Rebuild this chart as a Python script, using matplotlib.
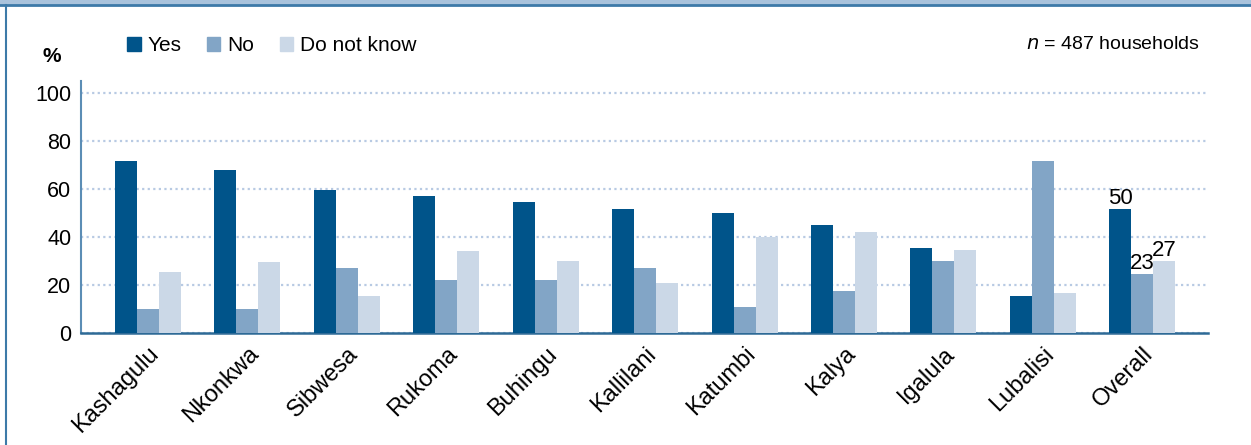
import numpy as np
import matplotlib.pyplot as plt
from matplotlib.lines import Line2D
from matplotlib.patches import Rectangle

plt.rcParams['font.family'] = ['Liberation Sans', 'DejaVu Sans']

# data
villages = ['Kashagulu', 'Nkonkwa', 'Sibwesa', 'Rukoma', 'Buhingu', 'Kallilani',
            'Katumbi', 'Kalya', 'Igalula', 'Lubalisi', 'Overall']
yes = [71.5, 68, 59.5, 57, 54.5, 51.5, 50, 45, 35.5, 15.5, 51.5]
no = [10, 10, 27, 22, 22, 27, 11, 17.5, 30, 71.5, 24.5]
dont_know = [25.5, 29.5, 15.5, 34, 30, 21, 40, 42, 34.5, 16.5, 30]
overall_labels = ['50', '23', '27']

c_yes = '#00548a'
c_no = '#82a5c6'
c_dk = '#cbd8e7'

fig = plt.figure(figsize=(12.51, 4.45), dpi=100)
ax = fig.add_axes([0.0647, 0.2517, 0.9009, 0.5663])

x = np.arange(len(villages))
w = 0.221
ax.bar(x - w, yes, w, color=c_yes, label='Yes', zorder=3)
ax.bar(x, no, w, color=c_no, label='No', zorder=3)
ax.bar(x + w, dont_know, w, color=c_dk, label='Do not know', zorder=3)

# value labels on the overall group
last = len(villages) - 1
for off, val, lab in zip([-w, 0, w], [yes[last], no[last], dont_know[last]], overall_labels):
    ax.annotate(lab, (last + off, val), xytext=(0, 0), textcoords='offset points',
                ha='center', va='bottom', fontsize=16)

ax.set_xlim(-0.674, 10.66)
ax.set_ylim(0, 105)
ax.set_yticks([0, 20, 40, 60, 80, 100])
ax.set_xticks(x)
ax.set_xticklabels(villages, rotation=45, ha='right', rotation_mode='anchor', fontsize=17)
ax.tick_params(axis='y', length=0, labelsize=15.5, pad=7)
ax.tick_params(axis='x', length=0, pad=7)

ax.yaxis.grid(True, linestyle=(0, (1, 1.5)), color='#b8cae3', linewidth=1.6, zorder=0)
for s in ['top', 'right']:
    ax.spines[s].set_visible(False)
ax.spines['left'].set_color('#5b8db5')
ax.spines['bottom'].set_color('#2e6a96')
ax.spines['left'].set_linewidth(1.5)
ax.spines['bottom'].set_linewidth(1.8)

fig.text(0.0415, 0.872, '%', fontsize=15, fontweight='bold', ha='center', va='center')

handles = [Rectangle((0, 0), 1, 1, color=c) for c in (c_yes, c_no, c_dk)]
fig.legend(handles, ['Yes', 'No', 'Do not know'], loc='center left',
           bbox_to_anchor=(0.1015, 0.898), ncol=3, frameon=False, fontsize=15,
           handlelength=0.65, handleheight=0.65, handletextpad=0.35, columnspacing=1.2,
           borderaxespad=0, borderpad=0)

fig.text(0.959, 0.901, r'$n$ = 487 households', fontsize=14, ha='right', va='center')

# frame of the box around the figure
fig.add_artist(Rectangle((0, 0.99), 1, 0.01, transform=fig.transFigure, color='#a9c3dc'))
fig.add_artist(Line2D([0, 1], [0.988, 0.988], transform=fig.transFigure, color='#3d7aa8', lw=2))
fig.add_artist(Line2D([0.005, 0.005], [0, 0.988], transform=fig.transFigure, color='#3d7aa8', lw=1.5))

fig.savefig('out.png', dpi=100)
